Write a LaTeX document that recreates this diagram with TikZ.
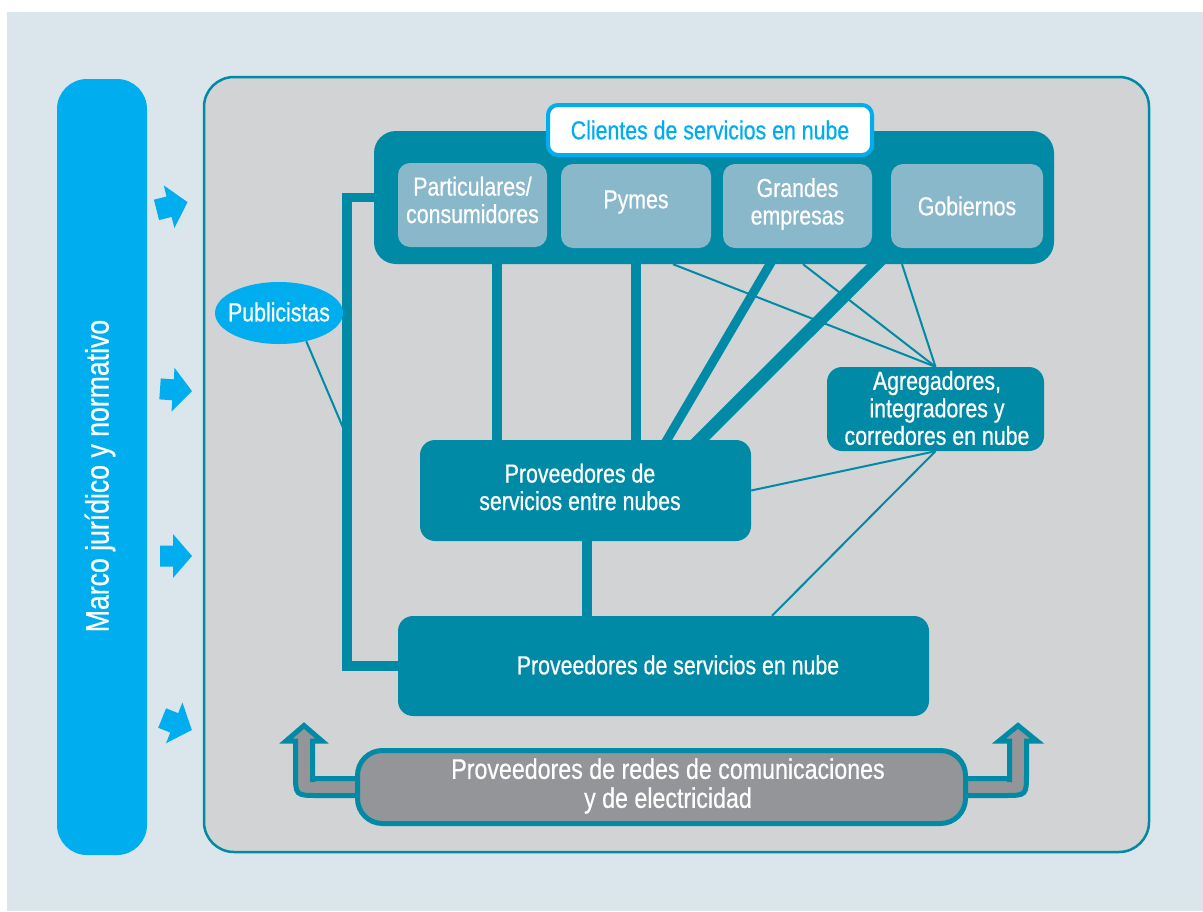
\documentclass[tikz,border=0pt]{standalone}
\usepackage{fontspec}
\setmainfont{Liberation Sans}[FakeStretch=0.82, FakeBold=0.6]
\usetikzlibrary{shapes.geometric}
\definecolor{bgblue}{RGB}{218,230,236}
\definecolor{panel}{RGB}{209,211,212}
\definecolor{teal1}{RGB}{0,138,166}
\definecolor{cyan1}{RGB}{0,174,239}
\definecolor{subc}{RGB}{138,184,203}
\definecolor{gray1}{RGB}{147,149,152}
\pgfdeclarelayer{back}
\pgfdeclarelayer{wires}
\pgfsetlayers{back,wires,main}
\begin{document}
\begin{tikzpicture}[x=1pt,y=-1pt,
  txt/.style={text=white, align=center, font=\fontsize{26}{27.5}\selectfont},
  tealbox/.style={rectangle, rounded corners=15pt, fill=teal1, inner sep=0pt, txt},
  subbox/.style={rectangle, rounded corners=12pt, fill=subc, inner sep=0pt, txt, minimum height=84pt},
  thinwire/.style={draw=teal1, line width=2pt},
  thickwire/.style={draw=teal1, line width=9.5pt, shorten <=-8pt, shorten >=-8pt},
  sidearrow/.style={fill=cyan1},
  bentarrow/.style={fill=gray1, draw=teal1, line width=5pt, line join=miter}
]
\useasboundingbox (0,0) rectangle (1203,911);
\begin{pgfonlayer}{back}
  \fill[white] (0,0) rectangle (1203,911);
  \fill[bgblue] (7,12) rectangle (1203,911);
  \node[rectangle, rounded corners=30pt, fill=cyan1, minimum width=90pt, minimum height=776pt, inner sep=0pt] (mj) at (102,467) {};
  \node[txt, rotate=90, font=\fontsize{32.5}{36}\selectfont] (mjt) at (100,476) {Marco jurídico y normativo};
  \node[rectangle, rounded corners=30pt, fill=panel, draw=teal1, line width=2.5pt, minimum width=945pt, minimum height=775pt, inner sep=0pt] (gp) at (676.5,464.5) {};
\end{pgfonlayer}

% side arrows
\fill[sidearrow, shift={(172,206)}, rotate=14] (-16,-10.5) -- (-3,-10.5) -- (-3,-22) -- (16,0) -- (-3,22) -- (-3,10.5) -- (-16,10.5) -- cycle;
\fill[sidearrow, shift={(176,390)}, rotate=-4] (-16,-10.5) -- (-3,-10.5) -- (-3,-22) -- (16,0) -- (-3,22) -- (-3,10.5) -- (-16,10.5) -- cycle;
\fill[sidearrow, shift={(176,556)}, rotate=0] (-16,-10.5) -- (-3,-10.5) -- (-3,-22) -- (16,0) -- (-3,22) -- (-3,10.5) -- (-16,10.5) -- cycle;
\fill[sidearrow, shift={(177,724)}, rotate=-22] (-16,-10.5) -- (-3,-10.5) -- (-3,-22) -- (16,0) -- (-3,22) -- (-3,10.5) -- (-16,10.5) -- cycle;

% nodes
\node[tealbox, rounded corners=22pt, minimum width=680pt, minimum height=133pt] (cl) at (714,197.5) {};
\node[subbox, minimum width=149pt] (p) at (472.5,205) {};
\node[txt] (pt) at (472.5,200) {Particulares/\\consumidores};
\node[subbox, minimum width=150pt] (py) at (636,206) {};
\node[txt] (pyt) at (636,202) {Pymes};
\node[subbox, minimum width=149pt] (ge) at (797.5,206) {};
\node[txt] (get) at (797.5,204) {Grandes\\empresas};
\node[subbox, minimum width=152pt] (go) at (967,206) {};
\node[txt] (got) at (967,206) {Gobiernos};
\node[rectangle, draw=cyan1, line width=4pt, fill=white, rounded corners=10pt, minimum width=324pt, minimum height=50pt, inner sep=0pt, text=cyan1, font=\fontsize{26}{27.5}\selectfont] (hd) at (710,130) {Clientes de servicios en nube};
\node[ellipse, fill=cyan1, minimum width=128pt, minimum height=62pt, inner sep=0pt] (pub) at (279,313) {};
\node[txt] (pubt) at (279,312) {Publicistas};
\node[tealbox, minimum width=217pt, minimum height=84pt] (ag) at (935.5,409) {};
\node[txt] (agt) at (937,408) {Agregadores,\\integradores y\\corredores en nube};
\node[tealbox, minimum width=331pt, minimum height=101pt] (en) at (585.5,490.5) {};
\node[txt] (ent) at (580,487) {Proveedores de\\servicios entre nubes};
\node[tealbox, minimum width=531pt, minimum height=100pt] (pv) at (663.5,666) {};
\node[txt] (pvt) at (678,665) {Proveedores de servicios en nube};

% bent arrows
\filldraw[bentarrow] (380,795.5) -- (318,795.5) .. controls (295.5,795.5) .. (295.5,773) -- (295.5,741) -- (286,741) -- (304,725.5) -- (322,741) -- (312.5,741) -- (312.5,782) .. controls (312.5,778.5) .. (316,778.5) -- (380,778.5) -- cycle;
\filldraw[bentarrow] (940,795.5) -- (1004,795.5) .. controls (1026.5,795.5) .. (1026.5,773) -- (1026.5,741) -- (1037,741) -- (1018,725.5) -- (999,741) -- (1009.5,741) -- (1009.5,782) .. controls (1009.5,778.5) .. (1006,778.5) -- (940,778.5) -- cycle;
\node[rectangle, rounded corners=25pt, fill=gray1, draw=teal1, line width=5pt, minimum width=608pt, minimum height=73pt, inner sep=0pt] (net) at (661.5,787) {};
\node[txt, font=\fontsize{28.3}{29}\selectfont] (nett) at (668,786) {Proveedores de redes de comunicaciones\\y de electricidad};

\coordinate (pb) at (347,666);
\coordinate (pj) at (347,437);
\begin{pgfonlayer}{wires}
  \draw[draw=teal1, line width=9.5pt] (cl.west) -| (pb) -- (pv.west);
  \draw[thinwire] (pub.-46) -- (pj);
  \draw[thickwire] (497,0 |- cl.south) -- (497,0 |- en.north);
  \draw[thickwire] (636,0 |- cl.south) -- (636,0 |- en.north);
  \draw[thickwire, line width=9pt] (770,0 |- cl.south) -- (667,0 |- en.north);
  \draw[thickwire, line width=13pt] (876,0 |- cl.south) -- (700,0 |- en.north);
  \draw[thickwire] (587,0 |- en.south) -- (587,0 |- pv.north);
  \draw[thinwire] (673,0 |- cl.south) -- (ag.north);
  \draw[thinwire] (803,0 |- cl.south) -- (ag.north);
  \draw[thinwire] (902,0 |- cl.south) -- (ag.north);
  \draw[thinwire] (ag.south) -- (en.east);
  \draw[thinwire] (ag.south) -- (772,0 |- pv.north);
\end{pgfonlayer}
\end{tikzpicture}
\end{document}
